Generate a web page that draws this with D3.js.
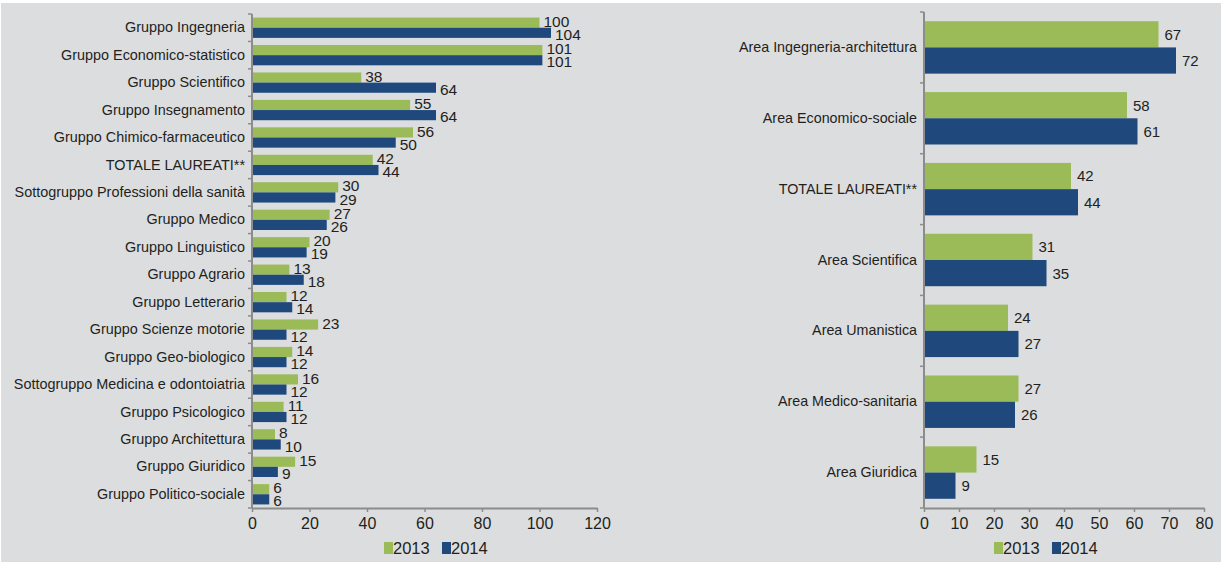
<!DOCTYPE html>
<html><head><meta charset="utf-8">
<script src="https://cdn.jsdelivr.net/npm/d3@7"></script>
<style>
html,body{margin:0;padding:0;background:#fff;}
text{font-family:"Liberation Sans",Arial,sans-serif;fill:#231f20;}
</style></head>
<body>
<svg id="c" width="1226" height="562"></svg>
<script>
const leftCategories = ["Gruppo Ingegneria","Gruppo Economico-statistico","Gruppo Scientifico","Gruppo Insegnamento","Gruppo Chimico-farmaceutico","TOTALE LAUREATI**","Sottogruppo Professioni della sanità","Gruppo Medico","Gruppo Linguistico","Gruppo Agrario","Gruppo Letterario","Gruppo Scienze motorie","Gruppo Geo-biologico","Sottogruppo Medicina e odontoiatria","Gruppo Psicologico","Gruppo Architettura","Gruppo Giuridico","Gruppo Politico-sociale"];
const left2013 = [100,101,38,55,56,42,30,27,20,13,12,23,14,16,11,8,15,6];
const left2014 = [104,101,64,64,50,44,29,26,19,18,14,12,12,12,12,10,9,6];
const leftTicks = [0,20,40,60,80,100,120];

const rightCategories = ["Area Ingegneria-architettura","Area Economico-sociale","TOTALE LAUREATI**","Area Scientifica","Area Umanistica","Area Medico-sanitaria","Area Giuridica"];
const right2013 = [67,58,42,31,24,27,15];
const right2014 = [72,61,44,35,27,26,9];
const rightTicks = [0,10,20,30,40,50,60,70,80];

const seriesNames = ["2013","2014"];
const colors = ["#9bbb59","#1f497d"];

const svg = d3.select("#c");
svg.append("rect").attr("x",1).attr("y",3).attr("width",1220).attr("height",559).attr("fill","#dcdddf");

function drawChart(cfg){
  const {cats, a, b, ticks, x0, x1, y0, y1, labelSize, valSize, valOff, valShift, legendX} = cfg;
  const x = d3.scaleLinear().domain([ticks[0], ticks[ticks.length-1]]).range([x0, x1]);
  const y = d3.scaleBand().domain(cats).range([y0, y1]).paddingInner(0.26).paddingOuter(0.13);
  const g = svg.append("g");
  const data = cats.map((c,i)=>({c, v:[a[i], b[i]]}));
  const bh = y.bandwidth()/2;
  data.forEach(d=>{
    d.v.forEach((v,k)=>{
      g.append("rect").attr("x",x(0)).attr("y",y(d.c)+k*bh).attr("width",x(v)-x(0)).attr("height",bh)
        .attr("fill",colors[k]);
      g.append("text").attr("x",x(v)+valOff).attr("y",y(d.c)+k*bh+bh/2+(k===0?-valShift:valShift)).attr("dy","0.36em")
        .attr("font-size",valSize).text(v);
    });
  });
  const ya = d3.axisLeft(y).tickSize(0).tickFormat(d=>d);
  const yg = g.append("g").attr("transform",`translate(${x0},0)`).call(ya);
  yg.select(".domain").remove();
  yg.selectAll("text").attr("x",-7).attr("font-size",labelSize).attr("fill","#231f20")
    .attr("font-family",'"Liberation Sans",Arial,sans-serif');
  const step = (y1-y0)/cats.length;
  const bounds = d3.range(cats.length+1).map(i=>y0+i*step);
  g.selectAll(".yb").data(bounds).join("line").attr("x1",x0-4).attr("x2",x0).attr("y1",d=>d).attr("y2",d=>d)
    .attr("stroke","#8c8c8c").attr("stroke-width",1.5);
  g.append("line").attr("x1",x0).attr("x2",x0).attr("y1",y0).attr("y2",y1).attr("stroke","#8c8c8c").attr("stroke-width",2);
  const xa = d3.axisBottom(x).tickValues(ticks).tickSize(4).tickSizeOuter(0);
  const xg = g.append("g").attr("transform",`translate(0,${y1})`).call(xa);
  xg.select(".domain").attr("stroke","#8c8c8c").attr("stroke-width",2);
  xg.selectAll(".tick line").attr("stroke","#8c8c8c").attr("stroke-width",1.5);
  xg.selectAll("text").attr("font-size",16).attr("dy","0.85em").attr("fill","#231f20")
    .attr("font-family",'"Liberation Sans",Arial,sans-serif');
  const lg = g.append("g").attr("transform",`translate(${legendX},542)`);
  let lx = 0;
  seriesNames.forEach((s,k)=>{
    lg.append("rect").attr("x",lx).attr("y",0).attr("width",9).attr("height",12).attr("fill",colors[k]);
    lg.append("text").attr("x",lx+9).attr("y",6).attr("dy","0.38em").attr("font-size",16.5).text(s);
    lx += 58;
  });
}

drawChart({cats:leftCategories,a:left2013,b:left2014,ticks:leftTicks,x0:252,x1:597,y0:14,y1:508,labelSize:14.4,valSize:15.5,valOff:4,valShift:1.5,legendX:384});
drawChart({cats:rightCategories,a:right2013,b:right2014,ticks:rightTicks,x0:924,x1:1204,y0:12,y1:508,labelSize:14.3,valSize:15,valOff:6,valShift:0,legendX:994});
</script>
</body></html>
